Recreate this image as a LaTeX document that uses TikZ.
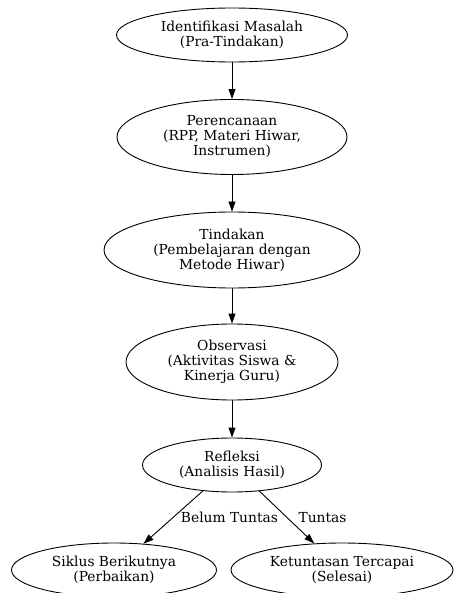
\documentclass[tikz,border=0pt]{standalone}
\usepackage{fontspec}
\setmainfont{DejaVu Serif}
\usetikzlibrary{shapes.geometric, arrows.meta}
\begin{document}
\begin{tikzpicture}[x=1pt, y=-1pt, line join=round, >={Triangle[length=10pt, width=7pt]}, font=\fontsize{13.8}{15}\selectfont, line width=0.9pt,
	stage/.style={ellipse, draw, align=center, inner sep=0pt}]
	\useasboundingbox (0,0) rectangle (455,593);
	\path
	(232,35) node[stage, minimum width=231pt, minimum height=54pt] (idn) {Identifikasi Masalah\\(Pra-Tindakan)}
	(232,137) node[stage, minimum width=230pt, minimum height=75pt] (ren) {Perencanaan\\(RPP, Materi Hiwar,\\Instrumen)}
	(232,250) node[stage, minimum width=256pt, minimum height=76pt] (tin) {Tindakan\\(Pembelajaran dengan\\Metode Hiwar)}
	(232,362) node[stage, minimum width=212pt, minimum height=76pt] (obs) {Observasi\\(Aktivitas Siswa \&\\Kinerja Guru)}
	(232,465) node[stage, minimum width=179pt, minimum height=54pt] (ref) {Refleksi\\(Analisis Hasil)}
	(114,570) node[stage, minimum width=205pt, minimum height=54pt] (sik) {Siklus Berikutnya\\(Perbaikan)}
	(342,570) node[stage, minimum width=222pt, minimum height=54pt] (tun) {Ketuntasan Tercapai\\(Selesai)};
	
	\foreach \a/\b in {idn/ren, ren/tin, tin/obs, obs/ref}
	\draw[->] (\a) -- (\b);
	
	\draw[->] (ref) -- (sik) node[pos=0.5, right=4pt]{Belum Tuntas};
	\draw[->] (ref) -- (tun) node[pos=0.5, right=8pt]{Tuntas};
\end{tikzpicture}
\end{document}
